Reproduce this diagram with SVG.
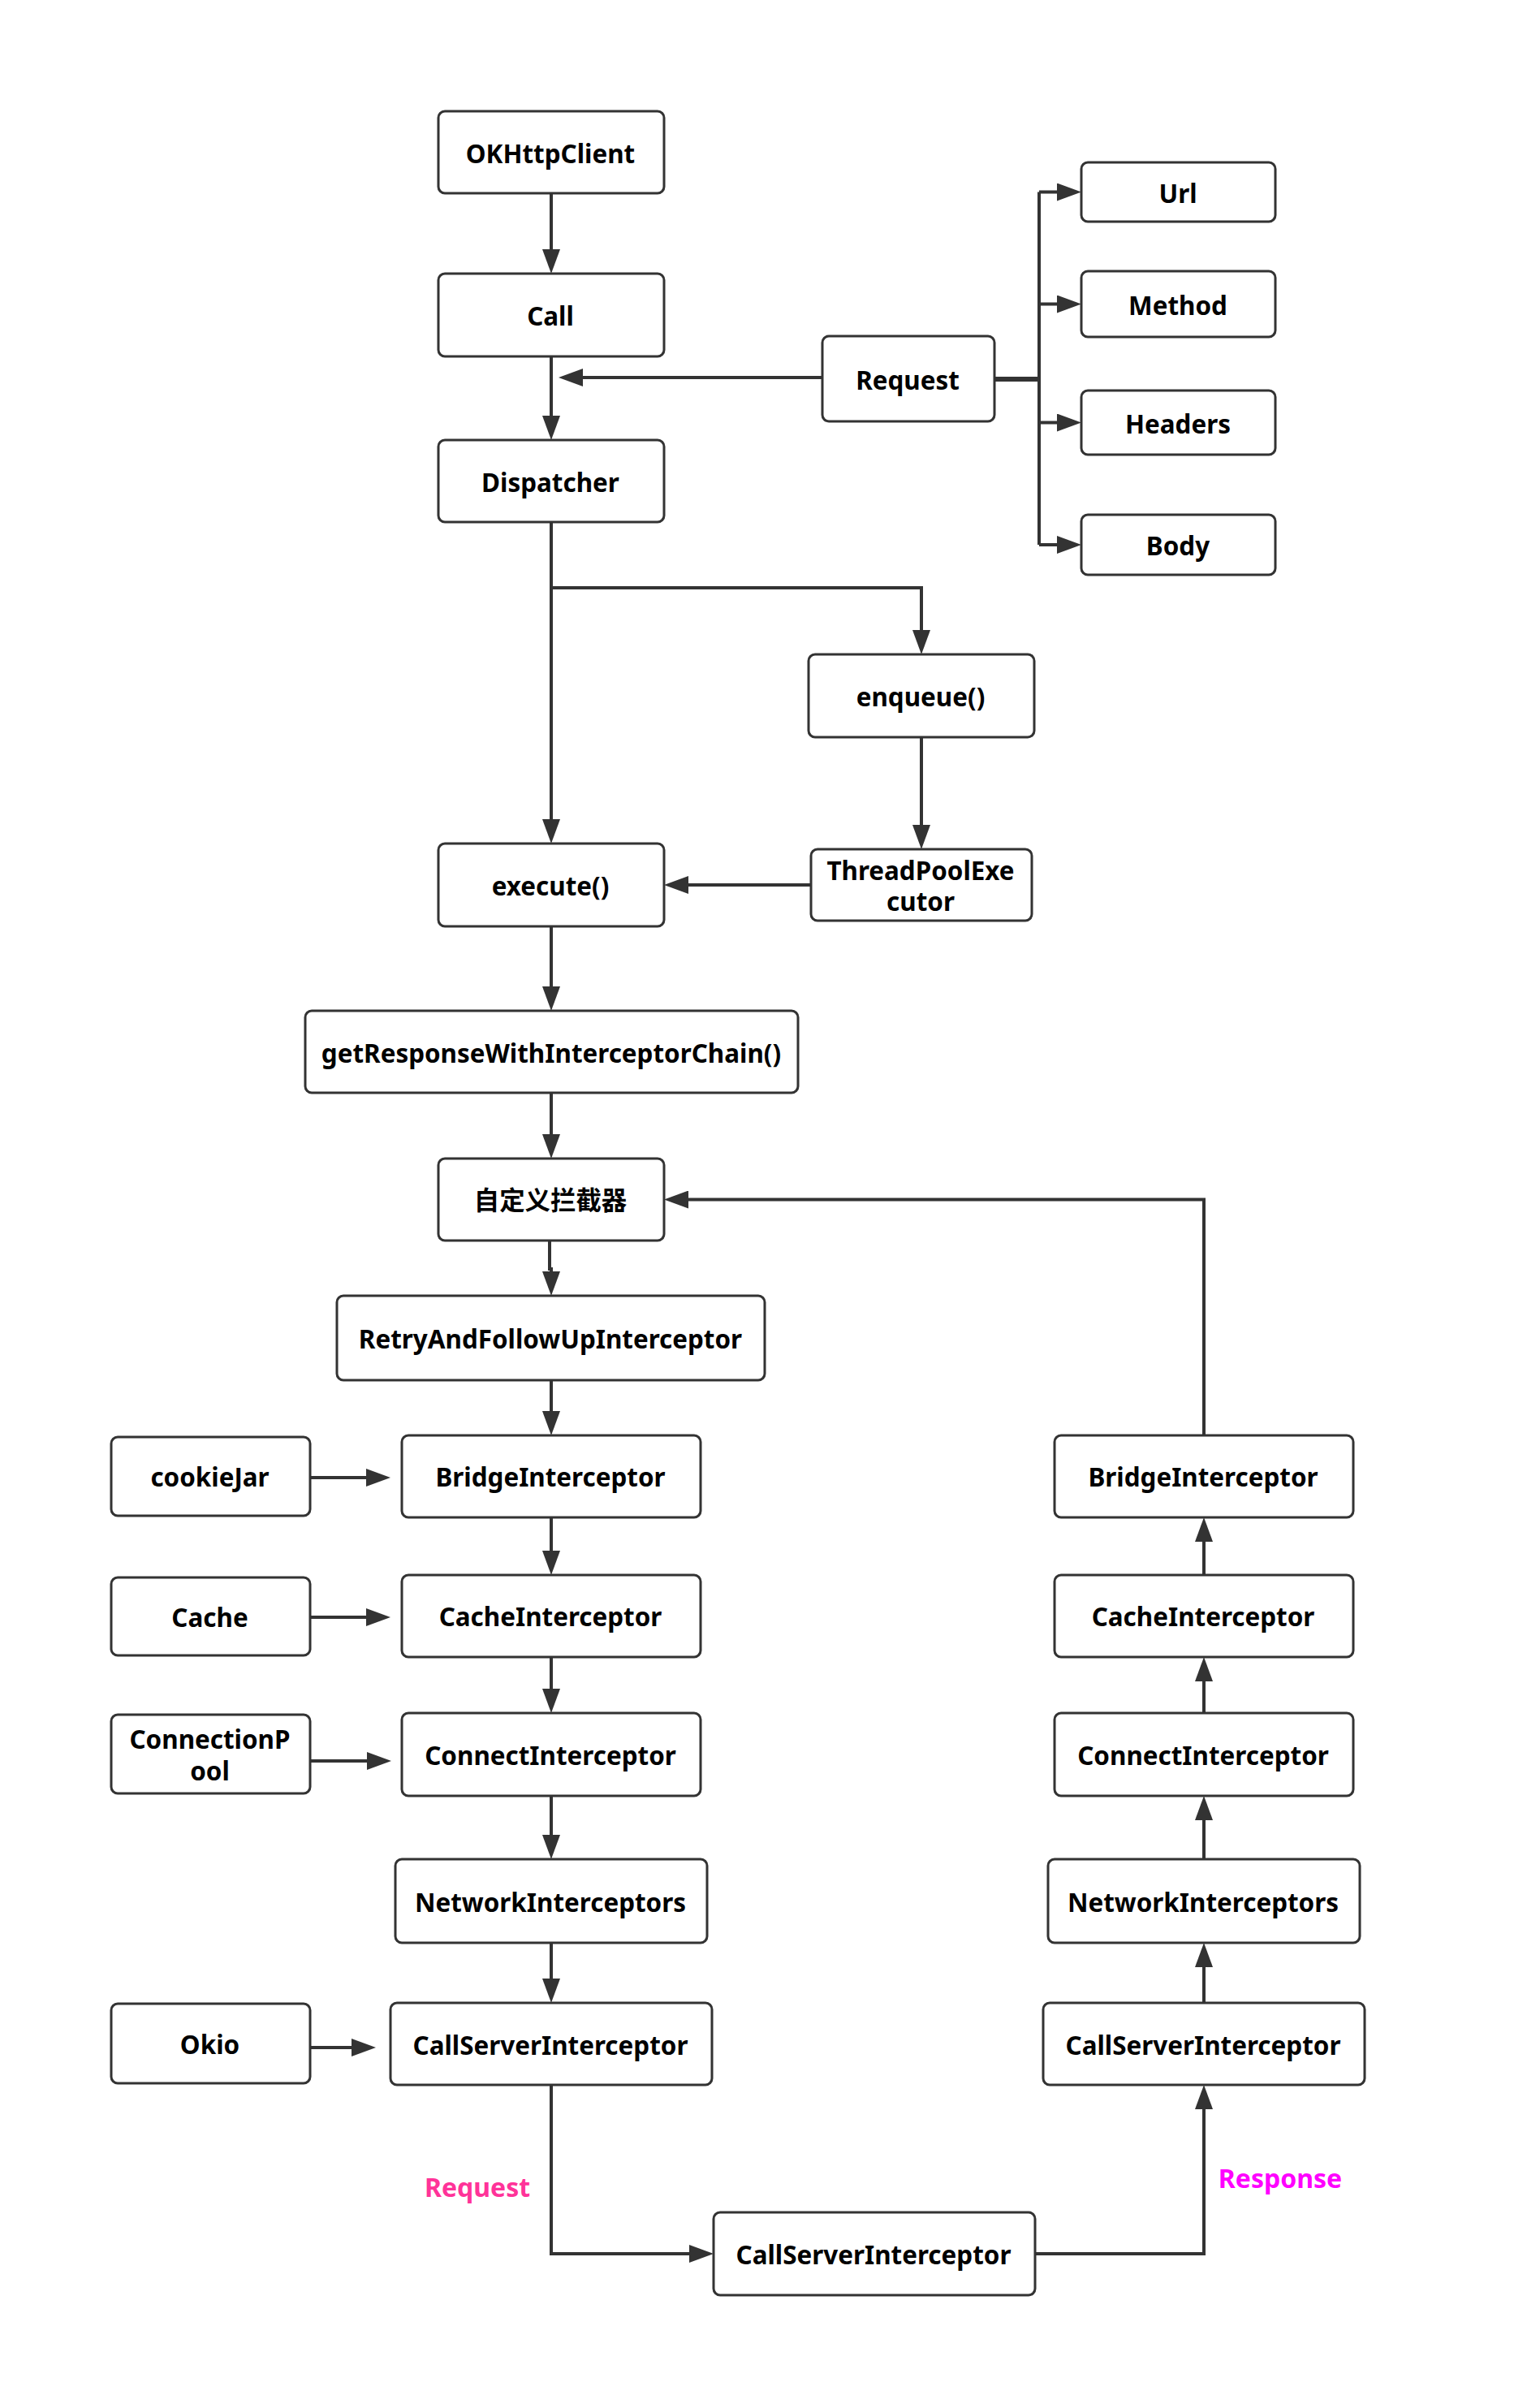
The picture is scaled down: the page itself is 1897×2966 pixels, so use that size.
<svg xmlns="http://www.w3.org/2000/svg" width="1897" height="2966" viewBox="0 0 1897 2966">
<style>
.n rect{fill:#fff;stroke:#333;stroke-width:3}
.n text{font-family:"Noto Sans","Noto Sans CJK SC",sans-serif;font-weight:bold;font-size:31.4px;fill:#000;text-anchor:middle}
.c path{fill:none;stroke:#333;stroke-width:4}
.lbl{font-family:"Noto Sans","Noto Sans CJK SC",sans-serif;font-weight:bold;font-size:32px;text-anchor:middle}
</style>
<defs>
<marker id="a" markerUnits="userSpaceOnUse" markerWidth="30" markerHeight="22" refX="20" refY="11" orient="auto">
<path d="M0,0 L30,11 L0,22 Z" fill="#333"/>
</marker>
</defs>
<rect width="1897" height="2966" fill="#fff"/>
<g class="c" id="connectors">
<path d="M679,238 V327" marker-end="url(#a)"/>
<path d="M679,439 V532" marker-end="url(#a)"/>
<path d="M1013,465 H698" marker-end="url(#a)"/>
<path d="M1225,467 H1280" style="stroke-width:6"/>
<path d="M1280,236.5 V671"/>
<path d="M1280,236.5 H1322" marker-end="url(#a)"/>
<path d="M1280,374.5 H1322" marker-end="url(#a)"/>
<path d="M1280,520.5 H1322" marker-end="url(#a)"/>
<path d="M1280,671 H1322" marker-end="url(#a)"/>
<path d="M679,643 V1029" marker-end="url(#a)"/>
<path d="M679,724 H1135 V796" marker-end="url(#a)"/>
<path d="M1135,908 V1036" marker-end="url(#a)"/>
<path d="M999,1090 H828" marker-end="url(#a)"/>
<path d="M679,1141 V1235" marker-end="url(#a)"/>
<path d="M679,1346 V1417" marker-end="url(#a)"/>
<path d="M677,1528 V1563 H679 V1586" marker-end="url(#a)"/>
<path d="M679,1700 V1758" marker-end="url(#a)"/>
<path d="M679,1869 V1930" marker-end="url(#a)"/>
<path d="M679,2041 V2100" marker-end="url(#a)"/>
<path d="M679,2212 V2280" marker-end="url(#a)"/>
<path d="M679,2393 V2457" marker-end="url(#a)"/>
<path d="M382,1820 H471" marker-end="url(#a)"/>
<path d="M382,1992 H471" marker-end="url(#a)"/>
<path d="M382,2169 H472" marker-end="url(#a)"/>
<path d="M382,2522 H453" marker-end="url(#a)"/>
<path d="M679,2568 V2776 H869" marker-end="url(#a)"/>
<path d="M1275,2776 H1483 V2578" marker-end="url(#a)"/>
<path d="M1483,2467 V2403" marker-end="url(#a)"/>
<path d="M1483,2290 V2222" marker-end="url(#a)"/>
<path d="M1483,2110 V2051" marker-end="url(#a)"/>
<path d="M1483,1940 V1879" marker-end="url(#a)"/>
<path d="M1483,1768 V1477.5 H828" marker-end="url(#a)"/>
</g>
<g class="n" id="okhttpclient"><rect x="540" y="137" width="278" height="101" rx="8"/><text x="678" y="201">OKHttpClient</text></g>
<g class="n" id="call"><rect x="540" y="337" width="278" height="102" rx="8"/><text x="678" y="401">Call</text></g>
<g class="n" id="dispatcher"><rect x="540" y="542" width="278" height="101" rx="8"/><text x="678" y="606">Dispatcher</text></g>
<g class="n" id="request"><rect x="1013" y="414" width="212" height="105" rx="8"/><text x="1118" y="480">Request</text></g>
<g class="n" id="url"><rect x="1332" y="200" width="239" height="73" rx="8"/><text x="1451" y="250">Url</text></g>
<g class="n" id="method"><rect x="1332" y="334" width="239" height="81" rx="8"/><text x="1451" y="388">Method</text></g>
<g class="n" id="headers"><rect x="1332" y="481" width="239" height="79" rx="8"/><text x="1451" y="534">Headers</text></g>
<g class="n" id="body"><rect x="1332" y="634" width="239" height="74" rx="8"/><text x="1451" y="684">Body</text></g>
<g class="n" id="enqueue"><rect x="996" y="806" width="278" height="102" rx="8"/><text x="1134" y="870">enqueue()</text></g>
<g class="n" id="threadpool"><rect x="999" y="1046" width="272" height="88" rx="8"/><text x="1134" y="1084">ThreadPoolExe</text><text x="1134" y="1122">cutor</text></g>
<g class="n" id="execute"><rect x="540" y="1039" width="278" height="102" rx="8"/><text x="678" y="1103">execute()</text></g>
<g class="n" id="getresponse"><rect x="376" y="1245" width="607" height="101" rx="8"/><text x="679" y="1309">getResponseWithInterceptorChain()</text></g>
<g class="n" id="custom"><rect x="540" y="1427" width="278" height="101" rx="8"/><text x="678" y="1490">自定义拦截器</text></g>
<g class="n" id="retry"><rect x="415" y="1596" width="527" height="104" rx="8"/><text x="678" y="1661">RetryAndFollowUpInterceptor</text></g>
<g class="n" id="cookiejar"><rect x="137" y="1770" width="245" height="97" rx="8"/><text x="258.5" y="1831">cookieJar</text></g>
<g class="n" id="bridge-l"><rect x="495" y="1768" width="368" height="101" rx="8"/><text x="678" y="1831">BridgeInterceptor</text></g>
<g class="n" id="cache"><rect x="137" y="1943" width="245" height="96" rx="8"/><text x="258.5" y="2004">Cache</text></g>
<g class="n" id="cacheint-l"><rect x="495" y="1940" width="368" height="101" rx="8"/><text x="678" y="2003">CacheInterceptor</text></g>
<g class="n" id="connpool"><rect x="137" y="2112" width="245" height="97" rx="8"/><text x="258.5" y="2154">ConnectionP</text><text x="258.5" y="2193">ool</text></g>
<g class="n" id="connect-l"><rect x="495" y="2110" width="368" height="102" rx="8"/><text x="678" y="2174">ConnectInterceptor</text></g>
<g class="n" id="network-l"><rect x="487" y="2290" width="384" height="103" rx="8"/><text x="678" y="2355">NetworkInterceptors</text></g>
<g class="n" id="callserver-l"><rect x="481" y="2467" width="396" height="101" rx="8"/><text x="678" y="2531">CallServerInterceptor</text></g>
<g class="n" id="okio"><rect x="137" y="2468" width="245" height="98" rx="8"/><text x="258.5" y="2530">Okio</text></g>
<g class="n" id="bridge-r"><rect x="1299" y="1768" width="368" height="101" rx="8"/><text x="1482" y="1831">BridgeInterceptor</text></g>
<g class="n" id="cacheint-r"><rect x="1299" y="1940" width="368" height="101" rx="8"/><text x="1482" y="2003">CacheInterceptor</text></g>
<g class="n" id="connect-r"><rect x="1299" y="2110" width="368" height="102" rx="8"/><text x="1482" y="2174">ConnectInterceptor</text></g>
<g class="n" id="network-r"><rect x="1291" y="2290" width="384" height="103" rx="8"/><text x="1482" y="2355">NetworkInterceptors</text></g>
<g class="n" id="callserver-r"><rect x="1285" y="2467" width="396" height="101" rx="8"/><text x="1482" y="2531">CallServerInterceptor</text></g>
<g class="n" id="callserver-b"><rect x="879" y="2725" width="396" height="102" rx="8"/><text x="1076" y="2789">CallServerInterceptor</text></g>
<text class="lbl" x="588" y="2706" fill="#ff3399">Request</text>
<text class="lbl" x="1577" y="2695" fill="#ff00ff">Response</text>
</svg>
